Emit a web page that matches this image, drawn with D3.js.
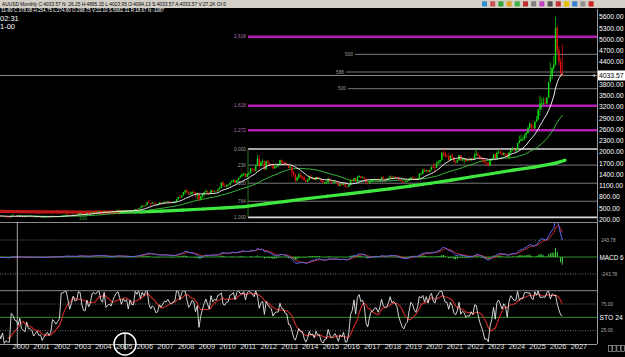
<!DOCTYPE html>
<meta charset="utf-8">
<style>
  body { margin: 0; background: #000; }
  svg { display: block; font-family: "Liberation Sans", Arial, sans-serif; }
</style>
<body>
<svg id="chart" width="625" height="357"></svg>
<script src="https://cdn.jsdelivr.net/npm/d3@7"></script>
<script>
// AU/USD monthly bars, first bar = Jan 1997 (open of the first bar below)
var startYear = 1997;
var firstOpen = 369;
var closes = [
  345,358,352,340,345,334,326,325,332,311,296,290,
  303,297,301,310,294,296,288,273,294,292,294,288,
  287,288,279,287,269,261,256,255,299,299,291,290,
  283,294,277,275,272,288,277,277,274,265,269,273,
  266,267,258,263,268,271,266,273,293,279,276,279,
  282,297,301,308,327,318,305,313,324,317,318,347,
  368,348,335,337,361,346,355,376,388,386,398,416,
  402,397,424,388,393,396,391,407,416,426,453,438,
  422,436,429,436,417,436,429,433,473,471,496,513,
  569,556,582,655,643,614,633,624,599,604,647,632,
  651,669,663,679,659,651,666,672,743,790,784,834,
  923,972,934,865,886,930,918,833,885,731,815,870,
  920,952,917,883,976,935,953,950,996,1040,1175,1088,
  1079,1109,1113,1179,1208,1245,1169,1246,1307,1347,1384,1422,
  1334,1411,1439,1556,1537,1500,1629,1814,1620,1722,1746,1531,
  1744,1697,1668,1664,1558,1604,1622,1648,1776,1719,1711,1664,
  1663,1578,1598,1469,1393,1234,1314,1395,1326,1324,1250,1202,
  1240,1326,1284,1296,1250,1327,1282,1287,1210,1171,1183,1184,
  1283,1213,1183,1183,1190,1172,1095,1133,1115,1142,1065,1061,
  1118,1238,1233,1293,1214,1322,1351,1308,1316,1277,1173,1151,
  1211,1249,1249,1268,1269,1242,1269,1322,1280,1271,1275,1303,
  1345,1318,1325,1315,1299,1253,1224,1201,1192,1215,1222,1282,
  1321,1313,1292,1283,1305,1409,1413,1520,1472,1513,1464,1517,
  1589,1585,1577,1687,1730,1781,1975,1967,1886,1879,1777,1898,
  1847,1734,1708,1769,1907,1770,1814,1814,1757,1783,1775,1829,
  1796,1909,1937,1897,1838,1807,1766,1711,1661,1633,1768,1824,
  1928,1827,1969,1990,1963,1919,1965,1940,1849,1983,2036,2063,
  2039,2044,2230,2286,2327,2327,2447,2503,2635,2744,2643,2625,
  2798,2858,3124,3289,3289,3303,3290,3448,3858,4003,4239,4320,
  5300,4700,4400,4094.13,4033.57
];
var highs = [
  367,366,358,353,348,346,334,332,337,334,312,298,
  306,304,303,316,310,298,298,289,300,300,300,297,
  293,292,290,292,289,266,263,260,304,339,301,294,
  291,313,294,282,278,293,291,280,278,273,273,275,
  274,269,268,265,278,274,271,279,293,293,278,281,
  284,299,303,309,328,332,322,316,326,324,323,349,
  372,382,353,341,372,369,362,377,392,394,401,417,
  427,419,428,427,396,400,409,417,418,431,456,456,
  439,438,446,438,438,440,431,447,474,478,496,537,
  575,572,586,655,730,639,669,650,625,608,648,650,
  653,690,670,695,690,667,683,682,744,795,845,836,
  925,975,1011,936,937,946,988,921,908,908,823,884,
  935,1006,963,919,982,988,960,965,1025,1070,1195,1226,
  1162,1129,1127,1180,1249,1266,1246,1248,1307,1387,1424,1432,
  1425,1415,1446,1577,1564,1556,1632,1912,1921,1755,1803,1764,
  1764,1791,1720,1680,1668,1641,1627,1692,1788,1796,1755,1723,
  1694,1685,1616,1603,1487,1417,1348,1434,1425,1361,1362,1268,
  1280,1345,1392,1331,1315,1326,1345,1312,1287,1255,1208,1239,
  1307,1299,1220,1225,1233,1205,1174,1170,1157,1191,1143,1088,
  1129,1263,1283,1306,1303,1362,1375,1367,1352,1317,1306,1180,
  1220,1264,1261,1295,1270,1296,1270,1331,1357,1306,1300,1306,
  1366,1361,1356,1365,1326,1309,1266,1219,1215,1243,1237,1284,
  1326,1346,1324,1298,1306,1439,1453,1555,1557,1518,1516,1524,
  1611,1689,1704,1747,1765,1789,1984,2075,1992,1933,1966,1906,
  1959,1872,1755,1798,1913,1916,1833,1834,1836,1814,1877,1831,
  1853,1974,2070,1998,1910,1879,1814,1807,1735,1730,1786,1833,
  1949,1959,2009,2049,2079,1985,1987,1949,1953,2010,2052,2135,
  2088,2049,2236,2431,2450,2387,2483,2531,2685,2790,2761,2726,
  2817,2956,3128,3500,3435,3452,3439,3453,3871,4381,4245,4550,
  5600,5350,4800,4500,4865.15
];
var lows = [
  343,341,347,337,337,334,317,319,318,309,291,283,
  280,289,292,300,290,286,286,271,276,289,290,283,
  283,285,279,279,268,256,253,252,255,296,290,287,
  282,281,277,273,271,272,276,271,270,264,264,268,
  263,256,256,254,263,263,265,263,270,276,272,272,
  277,282,289,301,307,315,301,300,312,313,314,318,
  342,345,324,322,337,342,342,352,371,369,380,398,
  399,393,397,388,373,384,389,389,398,413,423,430,
  419,418,426,426,414,415,417,429,436,458,467,490,
  521,538,543,581,638,543,615,614,574,560,604,614,
  604,646,637,662,652,640,649,648,671,726,776,779,
  848,878,898,855,850,861,915,772,735,682,705,772,
  802,915,865,867,882,917,905,938,947,1015,1041,1078,
  1075,1045,1088,1116,1166,1180,1157,1176,1239,1318,1330,1360,
  1309,1328,1381,1418,1463,1478,1480,1618,1532,1604,1668,1523,
  1523,1689,1627,1612,1527,1548,1564,1586,1653,1694,1672,1636,
  1627,1555,1565,1321,1338,1180,1207,1270,1293,1251,1227,1186,
  1202,1238,1284,1268,1240,1240,1282,1273,1207,1161,1131,1142,
  1167,1198,1142,1168,1170,1162,1077,1072,1098,1107,1053,1046,
  1062,1108,1208,1208,1200,1199,1310,1302,1303,1241,1171,1123,
  1146,1181,1194,1244,1214,1237,1205,1267,1275,1261,1265,1236,
  1302,1307,1303,1301,1282,1246,1211,1160,1180,1182,1196,1221,
  1276,1311,1281,1266,1267,1302,1383,1400,1459,1459,1445,1455,
  1517,1563,1451,1568,1671,1671,1758,1863,1849,1860,1765,1776,
  1803,1717,1677,1720,1766,1750,1751,1688,1722,1746,1759,1753,
  1781,1781,1890,1872,1787,1785,1681,1709,1615,1617,1616,1763,
  1824,1805,1810,1950,1932,1893,1903,1885,1847,1810,1931,2016,
  2001,1985,2040,2228,2277,2286,2353,2364,2472,2604,2537,2583,
  2614,2833,2860,2957,3121,3248,3268,3268,3436,3947,3930,4160,
  4300,4600,4300,4050,4023.95
];

// long moving average (year -> value)
var longAvgYears  = [1999, 2000, 2001, 2002, 2003, 2004, 2005, 2006, 2007, 2008, 2009, 2010, 2011, 2012, 2013, 2014, 2015, 2016, 2017, 2018, 2019, 2020, 2021, 2022, 2023, 2024, 2025, 2026, 2026.5];
var longAvgValues = [410, 405, 400, 396, 393, 391, 390, 398, 418, 445, 475, 505, 540, 610, 680, 750, 815, 880, 945, 1010, 1085, 1160, 1245, 1335, 1420, 1510, 1590, 1690, 1775];

// fibonacci levels drawn on the chart
var fibRetrace = [2075, 1644, 1162, 681, 250];
var fibRetraceLabels = ["0.000", ".236", ".500", ".764", "1.000"];
var fibExt = [2572, 3228, 5067];
var fibExtLabels = ["1.272", "1.618", "2.618"];
var fibUpper = [4596, 4126, 3681];
var fibUpperLabels = ["500", "588", "500"];

var priceTicks = d3.range(200, 5601, 300);
var yearTicks = d3.range(2000, 2028);
var lastPrice = 4033.57;

var svg = d3.select("#chart");
var axisX = 597;

var x = d3.scaleTime()
    .domain([new Date(2000, 0, 1), new Date(2027, 0, 1)])
    .range([17.3, 575.4]);
var y = d3.scaleLinear().domain([200, 5600]).range([219.3, 16.7]);

var bars = closes.map(function(c, i) {
  return {
    date: new Date(startYear, i, 15),
    o: i === 0 ? firstOpen : closes[i - 1],
    h: highs[i], l: lows[i], c: c
  };
});

function sma(arr, n) {
  return arr.map(function(v, i) {
    return i < n - 1 ? null : d3.mean(arr.slice(i - n + 1, i + 1));
  });
}
function ema(arr, n) {
  var k = 2 / (n + 1), prev, out = [];
  arr.forEach(function(v, i) { prev = i === 0 ? v : prev + k * (v - prev); out.push(prev); });
  return out;
}
function yearDate(t) {
  var yr = Math.floor(t);
  return new Date(yr, Math.round((t - yr) * 12), 1);
}

var defs = svg.append("defs");
defs.append("clipPath").attr("id", "clipMain").append("rect")
    .attr("x", 0).attr("y", 10).attr("width", axisX).attr("height", 212);
defs.append("clipPath").attr("id", "clipMacd").append("rect")
    .attr("x", 0).attr("y", 223).attr("width", axisX).attr("height", 60);
defs.append("clipPath").attr("id", "clipSto").append("rect")
    .attr("x", 0).attr("y", 284).attr("width", axisX).attr("height", 60);

svg.append("rect").attr("width", 625).attr("height", 357).attr("fill", "#000");

// ---------- header ----------
svg.append("rect").attr("x", 0).attr("y", 0).attr("width", 625).attr("height", 8).attr("fill", "#d4d0c8");
svg.append("text").attr("x", 2).attr("y", 6.2).attr("font-size", 5.6).attr("fill", "#000")
    .attr("textLength", 224).attr("lengthAdjust", "spacingAndGlyphs")
    .text("AUUSD Monthly C:4033.57 N: 26.25 H:4865.15 L:4023.95 O:4094.13 S:4033.57 A:4033.57 V:27.2K OI:0");
var iconColors = ["#2a8fd0", "#d05050", "#30a030", "#e0a020", "#40b040", "#c03030", "#808080", "#c040c0",
                  "#505050", "#c03030", "#e0c000", "#3080d0", "#909090", "#d02020"];
iconColors.forEach(function(c, i) {
  svg.append("rect").attr("x", 482 + i * 8.2).attr("y", 1.3).attr("width", 5).attr("height", 5.2).attr("fill", c);
});
svg.append("text").attr("x", 1).attr("y", 11.8).attr("font-size", 5.2).attr("fill", "#fff")
    .attr("textLength", 163).attr("lengthAdjust", "spacingAndGlyphs")
    .text("31-80 C:378.08 H:254.75 L:274.80 O:298.75 V:22.10 S:5682.31 R:18.67 N:-1087");
svg.append("text").attr("x", 0).attr("y", 21).attr("font-size", 7.5).attr("fill", "#fff").text("02:31");
svg.append("text").attr("x", 0).attr("y", 29).attr("font-size", 7.5).attr("fill", "#fff").text("1-00");

// ---------- main price panel ----------
var main = svg.append("g").attr("clip-path", "url(#clipMain)");

// current price line
main.append("line").attr("x1", 0).attr("x2", axisX)
    .attr("y1", y(lastPrice)).attr("y2", y(lastPrice))
    .attr("stroke", "#8a8a8a").attr("stroke-width", 1);

var fibX0 = 248;
fibRetrace.forEach(function(v, i) {
  var edge = i === 0 || i === fibRetrace.length - 1;
  main.append("line").attr("x1", fibX0).attr("x2", axisX).attr("y1", y(v)).attr("y2", y(v))
      .attr("stroke", edge ? "#dcdcdc" : "#7a7a7a").attr("stroke-width", edge ? 1.6 : 1);
  main.append("text").attr("x", fibX0 - 2).attr("y", y(v) + 1.8).attr("text-anchor", "end")
      .attr("font-size", 4.8).attr("fill", "#9a9a9a").text(fibRetraceLabels[i]);
});
main.append("line").attr("x1", fibX0).attr("x2", fibX0)
    .attr("y1", y(fibRetrace[0])).attr("y2", y(fibRetrace[4]))
    .attr("stroke", "#2e8f2e").attr("stroke-width", 0.8);

fibExt.forEach(function(v, i) {
  main.append("line").attr("x1", fibX0).attr("x2", axisX).attr("y1", y(v)).attr("y2", y(v))
      .attr("stroke", "#b21fb2").attr("stroke-width", 2.4);
  main.append("text").attr("x", fibX0 - 2).attr("y", y(v) + 1.8).attr("text-anchor", "end")
      .attr("font-size", 4.8).attr("fill", "#b070b0").text(fibExtLabels[i]);
});

[355, 346, 348].forEach(function(sx, i) {
  var v = fibUpper[i];
  main.append("line").attr("x1", sx).attr("x2", axisX).attr("y1", y(v)).attr("y2", y(v))
      .attr("stroke", "#7a7a7a").attr("stroke-width", 1);
  main.append("text").attr("x", sx - 2).attr("y", y(v) + 1.8).attr("text-anchor", "end")
      .attr("font-size", 4.8).attr("fill", "#9a9a9a").text(fibUpperLabels[i]);
});

main.append("text").attr("x", 83).attr("y", 219.5).attr("text-anchor", "middle")
    .attr("font-size", 4.8).attr("fill", "#2e9a2e").text("300");

// long average, red while falling and green while rising
var longPts = longAvgYears.map(function(t, i) { return { date: yearDate(t), v: longAvgValues[i] }; });
var segLine = d3.line().x(function(d) { return x(d.date); }).y(function(d) { return y(d.v); });
for (var i = 1; i < longPts.length; i++) {
  var falling = longPts[i].v < longPts[i - 1].v;
  main.append("path").datum([longPts[i - 1], longPts[i]])
      .attr("d", segLine).attr("fill", "none")
      .attr("stroke", falling ? "#c01818" : "#3ee83e")
      .attr("stroke-width", 3.2).attr("stroke-linecap", "round");
}

// 36 and 12 month averages
var ma36 = sma(closes, 36), ma12 = sma(closes, 12);
var maLine = d3.line()
    .defined(function(d) { return d.v != null; })
    .x(function(d) { return x(d.date); })
    .y(function(d) { return y(d.v); });
main.append("path").datum(bars.map(function(b, i) { return { date: b.date, v: ma36[i] }; }))
    .attr("d", maLine).attr("fill", "none").attr("stroke", "#3cbf3c").attr("stroke-width", 1);

// candles
var cw = 1.4;
var cg = main.append("g");
cg.selectAll("line.wick").data(bars).enter().append("line")
    .attr("class", "wick")
    .attr("x1", function(d) { return x(d.date); }).attr("x2", function(d) { return x(d.date); })
    .attr("y1", function(d) { return y(d.h); }).attr("y2", function(d) { return y(d.l); })
    .attr("stroke", function(d) { return d.c >= d.o ? "#10e010" : "#e01010"; })
    .attr("stroke-width", 0.7);
cg.selectAll("rect.body").data(bars).enter().append("rect")
    .attr("class", "body")
    .attr("x", function(d) { return x(d.date) - cw / 2; })
    .attr("width", cw)
    .attr("y", function(d) { return y(Math.max(d.o, d.c)); })
    .attr("height", function(d) { return Math.max(0.8, Math.abs(y(d.o) - y(d.c))); })
    .attr("fill", function(d) { return d.c >= d.o ? "#10e010" : "#e01010"; });

main.append("path").datum(bars.map(function(b, i) { return { date: b.date, v: ma12[i] }; }))
    .attr("d", maLine).attr("fill", "none").attr("stroke", "#eeeeee").attr("stroke-width", 1);

// right price axis
svg.append("line").attr("x1", axisX + 0.5).attr("x2", axisX + 0.5).attr("y1", 9).attr("y2", 344)
    .attr("stroke", "#9a9a9a").attr("stroke-width", 1);
svg.append("line").attr("x1", 0).attr("x2", axisX).attr("y1", 222.5).attr("y2", 222.5)
    .attr("stroke", "#8a8a8a").attr("stroke-width", 1);
svg.selectAll("text.ptick").data(priceTicks.filter(function(v) { return Math.abs(y(v) - y(lastPrice)) > 7; }))
  .enter().append("text").attr("class", "ptick")
    .attr("x", 599).attr("y", function(d) { return y(d) + 2.6; })
    .attr("font-size", 6.8).attr("fill", "#fff")
    .text(function(d) { return d.toFixed(2); });
svg.append("rect").attr("x", 598).attr("y", y(lastPrice) - 5).attr("width", 27).attr("height", 10).attr("fill", "#fff");
svg.append("text").attr("x", 599).attr("y", y(lastPrice) + 2.6).attr("font-size", 6.8).attr("fill", "#000")
    .text(lastPrice.toFixed(2));
svg.append("text").attr("x", 596).attr("y", y(lastPrice) + 2).attr("text-anchor", "end")
    .attr("font-size", 5).attr("fill", "#bbb").text("\u25C4");

// ---------- MACD panel ----------
var fast = ema(closes, 6), slow = ema(closes, 13);
var macd = fast.map(function(v, i) { return v - slow[i]; });
var signal = ema(macd, 5);
var hist = macd.map(function(v, i) { return v - signal[i]; });
var macdMax = d3.max(macd);
var yM = d3.scaleLinear().domain([0, macdMax]).range([257, 219]);
var macdRef = yM.invert(240);

var mg = svg.append("g").attr("clip-path", "url(#clipMacd)");
[macdRef, -macdRef].forEach(function(v) {
  mg.append("line").attr("x1", 0).attr("x2", axisX).attr("y1", yM(v)).attr("y2", yM(v))
      .attr("stroke", "#8a8a8a").attr("stroke-width", 0.8).attr("stroke-dasharray", "1,1.5");
});
mg.append("line").attr("x1", 0).attr("x2", axisX).attr("y1", yM(0)).attr("y2", yM(0))
    .attr("stroke", "#2f8f2f").attr("stroke-width", 1);
mg.selectAll("rect.hist").data(bars).enter().append("rect").attr("class", "hist")
    .attr("x", function(d) { return x(d.date) - 0.5; }).attr("width", 1)
    .attr("y", function(d, i) { return Math.min(yM(0), yM(hist[i])); })
    .attr("height", function(d, i) { return Math.abs(yM(hist[i]) - yM(0)); })
    .attr("fill", "#3fd83f");
var macdLine = d3.line().x(function(d) { return x(d.date); }).y(function(d) { return yM(d.v); });
mg.append("path").datum(bars.map(function(b, i) { return { date: b.date, v: signal[i] }; }))
    .attr("d", macdLine).attr("fill", "none").attr("stroke", "#d02a2a").attr("stroke-width", 1);
mg.append("path").datum(bars.map(function(b, i) { return { date: b.date, v: macd[i] }; }))
    .attr("d", macdLine).attr("fill", "none").attr("stroke", "#5a6cf0").attr("stroke-width", 1);

svg.append("text").attr("x", 601).attr("y", yM(macdRef) + 1.8).attr("font-size", 4.8).attr("fill", "#aaa")
    .text(macdRef.toFixed(2));
svg.append("text").attr("x", 601).attr("y", yM(-macdRef) + 1.8).attr("font-size", 4.8).attr("fill", "#aaa")
    .text((-macdRef).toFixed(2));
svg.append("text").attr("x", 599.5).attr("y", yM(0) + 2.6).attr("font-size", 6.4).attr("fill", "#fff")
    .text("MACD 6");

// ---------- Stochastic panel ----------
var kN = 24, dN = 8;
var stoK = closes.map(function(c, i) {
  if (i < kN - 1) return null;
  var hh = d3.max(highs.slice(i - kN + 1, i + 1)), ll = d3.min(lows.slice(i - kN + 1, i + 1));
  return 100 * (c - ll) / (hh - ll);
});
var stoD = stoK.map(function(v, i) {
  if (i < kN - 1 + dN - 1) return null;
  return d3.mean(stoK.slice(i - dN + 1, i + 1));
});
var yS = d3.scaleLinear().domain([0, 100]).range([344, 290.7]);
var sg = svg.append("g").attr("clip-path", "url(#clipSto)");
svg.append("line").attr("x1", 0).attr("x2", axisX).attr("y1", yS(100)).attr("y2", yS(100))
    .attr("stroke", "#8a8a8a").attr("stroke-width", 1);
[75, 25].forEach(function(v) {
  sg.append("line").attr("x1", 0).attr("x2", axisX).attr("y1", yS(v)).attr("y2", yS(v))
      .attr("stroke", "#8a8a8a").attr("stroke-width", 0.8).attr("stroke-dasharray", "1,1.5");
  svg.append("text").attr("x", 601).attr("y", yS(v) + 1.8).attr("font-size", 4.8).attr("fill", "#aaa")
      .text(v.toFixed(2));
});
sg.append("line").attr("x1", 0).attr("x2", axisX).attr("y1", yS(50)).attr("y2", yS(50))
    .attr("stroke", "#2f8f2f").attr("stroke-width", 1);
var stoLine = d3.line()
    .defined(function(d) { return d.v != null; })
    .x(function(d) { return x(d.date); }).y(function(d) { return yS(d.v); });
sg.append("path").datum(bars.map(function(b, i) { return { date: b.date, v: stoD[i] }; }))
    .attr("d", stoLine).attr("fill", "none").attr("stroke", "#d02a2a").attr("stroke-width", 1.1);
sg.append("path").datum(bars.map(function(b, i) { return { date: b.date, v: stoK[i] }; }))
    .attr("d", stoLine).attr("fill", "none").attr("stroke", "#e8e8e8").attr("stroke-width", 0.9);
svg.append("text").attr("x", 599.5).attr("y", yS(50) + 2.6).attr("font-size", 6.8).attr("fill", "#fff")
    .text("STO 24");

// ---------- time axis ----------
svg.append("line").attr("x1", 0).attr("x2", axisX).attr("y1", 344.5).attr("y2", 344.5)
    .attr("stroke", "#9a9a9a").attr("stroke-width", 1);
var xa = svg.append("g").attr("transform", "translate(0,344.5)")
    .call(d3.axisBottom(x).tickValues(yearTicks.map(function(yr) { return new Date(yr, 0, 1); }))
      .tickSize(2.5).tickFormat(d3.timeFormat("%Y")));
xa.select(".domain").remove();
xa.selectAll(".tick line").attr("stroke", "#9a9a9a");
xa.selectAll(".tick text").attr("fill", "#e0e0e0").attr("font-size", 7.4)
    .attr("font-family", "Liberation Sans, Arial, sans-serif").attr("dx", 3).attr("dy", -0.6);

// cursor marks
svg.append("line").attr("x1", 17.3).attr("x2", 17.3).attr("y1", 222).attr("y2", 348)
    .attr("stroke", "#cfcfcf").attr("stroke-width", 0.8);
svg.append("circle").attr("cx", 125).attr("cy", 344).attr("r", 11)
    .attr("fill", "none").attr("stroke", "#fff").attr("stroke-width", 1.5);
svg.append("line").attr("x1", 125).attr("x2", 125).attr("y1", 333).attr("y2", 350)
    .attr("stroke", "#fff").attr("stroke-width", 1.2);
d3.range(4).forEach(function(i) {
  svg.append("rect").attr("x", 608.5 + i * 4.2).attr("y", 345.5).attr("width", 3.4).attr("height", 6)
      .attr("fill", "none").attr("stroke", "#bbb").attr("stroke-width", 0.6);
});
</script>
</body>
